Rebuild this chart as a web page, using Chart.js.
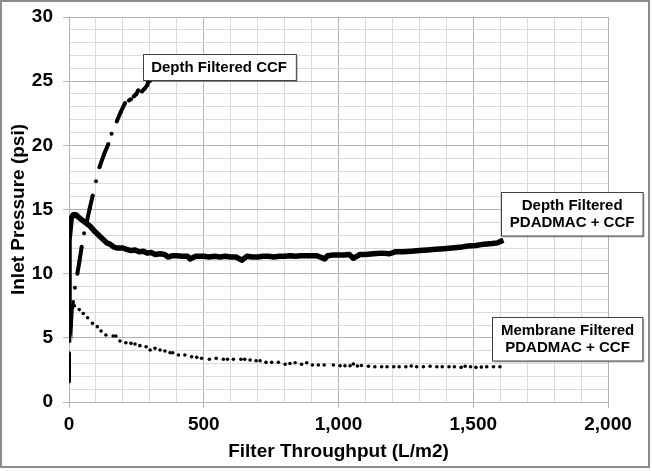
<!DOCTYPE html>
<html>
<head>
<meta charset="utf-8">
<script src="https://cdn.jsdelivr.net/npm/chart.js@4"></script>
<style>
  body { margin: 0; background: #fff; }
  canvas { display: block; }
</style>
</head>
<body>
<canvas id="chart" width="652" height="471"></canvas>
<script>
// Depth Filtered PDADMAC + CCF (thick noisy trace)
const pdaX = [0, 0, 8, 16, 25, 41, 60, 78, 95, 115, 130, 140, 152, 165, 177, 200, 214, 230, 245, 260, 276, 290, 305, 320, 338, 355, 368, 385, 400, 420, 440, 449, 470, 500, 520, 540, 560, 580, 600, 620, 641, 660, 680, 700, 720, 740, 760, 780, 800, 820, 840, 860, 880, 900, 920, 949, 960, 980, 1000, 1020, 1040, 1055, 1080, 1100, 1130, 1160, 1190, 1210, 1240, 1270, 1300, 1330, 1360, 1390, 1420, 1450, 1480, 1510, 1540, 1570, 1590, 1600, 1612];
const pdaY = [5.5, 12.6, 14.3, 14.6, 14.6, 14.3, 14.0, 13.7, 13.3, 12.9, 12.6, 12.4, 12.3, 12.1, 12.0, 12.0, 11.9, 11.8, 11.85, 11.7, 11.75, 11.6, 11.65, 11.5, 11.55, 11.5, 11.3, 11.4, 11.4, 11.35, 11.35, 11.15, 11.35, 11.35, 11.3, 11.35, 11.3, 11.35, 11.3, 11.3, 11.05, 11.35, 11.3, 11.3, 11.35, 11.35, 11.3, 11.35, 11.35, 11.4, 11.35, 11.4, 11.4, 11.4, 11.4, 11.15, 11.4, 11.45, 11.45, 11.45, 11.5, 11.2, 11.5, 11.5, 11.55, 11.6, 11.55, 11.7, 11.7, 11.75, 11.8, 11.85, 11.9, 11.95, 12.0, 12.05, 12.15, 12.2, 12.3, 12.35, 12.4, 12.5, 12.6];

// Depth Filtered CCF (dashes and dots, null = gap)
const ccfX = [0, 0, 0, 22, 22, 31, 39, 47, 47, 56, 56, 66, 77, 88, 88, 100, 100, 113, 130, 146, 146, 158, 158, 177, 192, 208, 208, 222, 230, 230, 240, 250, 257, 257, 270, 280, 291, 294, 300];
const ccfY = [1.6, 3.8, null, 8.9, null, 10.0, 11.0, 12.1, null, 13.15, null, 14.05, 15.1, 16.1, null, 17.2, null, 18.3, 19.3, 20.1, null, 20.9, null, 21.85, 22.6, 23.3, null, 23.5, 23.6, null, 23.8, 24.0, 24.3, null, 24.2, 24.4, 24.7, 25.0, 25.0];

// Membrane Filtered PDADMAC + CCF (dotted)
const memX = [0, 3, 6, 9, 12, 16, 20, 38, 53, 69, 87, 105, 119, 137, 164, 174, 189, 211, 230, 245, 263, 286, 301, 319, 338, 356, 375, 385, 406, 430, 455, 474, 492, 521, 546, 573, 588, 610, 638, 652, 672, 694, 709, 731, 752, 777, 802, 820, 839, 863, 882, 903, 925, 947, 981, 1006, 1024, 1043, 1055, 1070, 1085, 1111, 1135, 1160, 1180, 1205, 1225, 1250, 1270, 1290, 1315, 1340, 1365, 1385, 1410, 1430, 1455, 1470, 1490, 1510, 1530, 1550, 1575, 1599];
const memY = [4.75, 5.6, 6.4, 6.0, 7.3, 7.8, 7.5, 7.2, 6.9, 6.57, 6.13, 5.87, 5.53, 5.22, 5.14, 5.14, 4.75, 4.62, 4.57, 4.52, 4.39, 4.31, 4.05, 4.18, 4.05, 3.97, 3.84, 3.84, 3.66, 3.66, 3.53, 3.48, 3.4, 3.33, 3.4, 3.33, 3.33, 3.33, 3.33, 3.33, 3.27, 3.22, 3.22, 3.09, 3.09, 3.09, 2.94, 3.0, 3.06, 2.94, 3.06, 2.88, 2.88, 2.88, 2.88, 2.83, 2.83, 2.83, 2.96, 2.8, 2.85, 2.78, 2.75, 2.75, 2.75, 2.75, 2.75, 2.75, 2.8, 2.75, 2.75, 2.78, 2.75, 2.75, 2.75, 2.75, 2.7, 2.78, 2.75, 2.7, 2.72, 2.75, 2.75, 2.75];

// text boxes, anchored at data values
const noteLines = [["Depth Filtered CCF"], ["Depth Filtered", "PDADMAC + CCF"], ["Membrane Filtered", "PDADMAC + CCF"]];
const noteX = [557, 1867, 1850];
const noteY = [26.1, 14.7, 4.96];

const FONT = "'Liberation Sans', Arial, sans-serif";
const toPoints = (xs, ys) => xs.map((x, i) => ({ x: x, y: ys[i] }));

const gridColor = major => ctx => (ctx.tick && ctx.tick.value % major === 0) ? "#b3b3b3" : "#dadada";
const tickColor = major => ctx => (ctx.tick && ctx.tick.value % major === 0) ? "#b3b3b3" : "rgba(0,0,0,0)";

const frame = {
  id: "frame",
  beforeDraw(chart) {
    const c = chart.ctx;
    c.save();
    c.fillStyle = "#fff";
    c.fillRect(0, 0, chart.width, chart.height);
    c.restore();
  },
  afterDraw(chart) {
    const c = chart.ctx;
    const xs = chart.scales.x, ys = chart.scales.y;
    c.save();
    c.strokeStyle = "#8c8c8c";
    c.lineWidth = 2;
    c.strokeRect(1, 1, 648, 466);

    c.font = "bold 15px " + FONT;
    c.textAlign = "center";
    c.textBaseline = "middle";
    noteLines.forEach((lines, i) => {
      const cx = xs.getPixelForValue(noteX[i]);
      const cy = ys.getPixelForValue(noteY[i]);
      const w = Math.max(...lines.map(t => c.measureText(t).width)) + 17;
      const h = lines.length * 17.5 + 8.5;
      const l = Math.round(cx - w / 2) + 0.5, t = Math.round(cy - h / 2) + 0.5;
      c.fillStyle = "rgba(0,0,0,0.25)";
      c.fillRect(l + 1.5, t + 1.5, w, h);
      c.fillStyle = "#fff";
      c.fillRect(l, t, w, h);
      c.strokeStyle = "#404040";
      c.lineWidth = 1;
      c.strokeRect(l, t, w, h);
      c.fillStyle = "#000";
      lines.forEach((txt, k) => {
        c.fillText(txt, cx, cy + (k - (lines.length - 1) / 2) * 17.5 + 1);
      });
    });
    c.restore();
  }
};

new Chart(document.getElementById("chart"), {
  type: "scatter",
  data: {
    datasets: [
      {
        label: "Depth Filtered PDADMAC + CCF",
        data: toPoints(pdaX, pdaY),
        showLine: true,
        borderColor: "#000",
        borderWidth: 5.5,
        pointRadius: 0,
        borderJoinStyle: "round"
      },
      {
        label: "Depth Filtered CCF",
        data: toPoints(ccfX, ccfY),
        showLine: true,
        spanGaps: false,
        borderColor: "#000",
        backgroundColor: "#000",
        borderWidth: 4,
        pointRadius: 2,
        pointBorderWidth: 0
      },
      {
        label: "Membrane Filtered PDADMAC + CCF",
        data: toPoints(memX, memY),
        showLine: true,
        borderColor: "#000",
        backgroundColor: "#000",
        borderWidth: 3,
        segment: {
          borderColor: ctx => ctx.p1.parsed.x <= 16 ? "#000" : "rgba(0,0,0,0)"
        },
        pointRadius: 1.8,
        pointBorderWidth: 0
      }
    ]
  },
  options: {
    responsive: false,
    animation: false,
    layout: { padding: { left: 0, right: 44, top: 17, bottom: 0 } },
    plugins: { legend: { display: false }, tooltip: { enabled: false } },
    scales: {
      x: {
        type: "linear",
        min: 0,
        max: 2000,
        ticks: {
          stepSize: 100,
          autoSkip: false,
          maxRotation: 0,
          padding: 5,
          color: "#000",
          font: { family: FONT, size: 19, weight: "bold" },
          callback: v => v % 500 === 0 ? v.toLocaleString("en-US") : ""
        },
        grid: { color: gridColor(500), tickColor: tickColor(500), tickLength: 6 },
        border: { color: "#b3b3b3" },
        title: {
          display: true,
          text: "Filter Throughput (L/m2)",
          color: "#000",
          font: { family: FONT, size: 19, weight: "bold" },
          padding: { top: 0, bottom: 8 }
        },
        afterFit: s => { s.height = 69; s.paddingLeft = 0; s.paddingRight = 0; }
      },
      y: {
        min: 0,
        max: 30,
        ticks: {
          stepSize: 1,
          autoSkip: false,
          padding: 10,
          color: "#000",
          font: { family: FONT, size: 19, weight: "bold" },
          callback: v => v % 5 === 0 ? String(v) : ""
        },
        grid: { color: gridColor(5), tickColor: tickColor(5), tickLength: 6 },
        border: { color: "#b3b3b3" },
        title: {
          display: true,
          text: "Inlet Pressure (psi)",
          color: "#000",
          font: { family: FONT, size: 19, weight: "bold" },
          padding: { top: 7, bottom: 0 }
        },
        afterFit: s => { s.width = 69; s.paddingTop = 0; s.paddingBottom = 0; }
      }
    }
  },
  plugins: [frame]
});
</script>
</body>
</html>
